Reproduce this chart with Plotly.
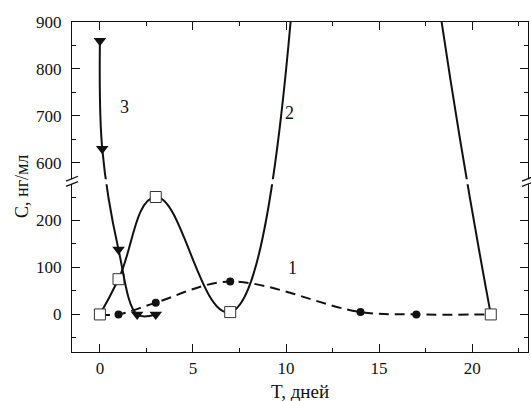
import plotly.graph_objects as go

# ---- data (real values, ng/ml) ----
t1 = [0, 1, 3, 7, 14, 17, 21]
c1 = [0, 0, 25, 70, 5, 0, 0]

t2 = [0, 1, 3, 7, 14, 17, 21]
c2 = [0, 75, 250, 5, 2700, 1300, 0]   # 14 and 17 lie above the plotted range

t3 = [0, 0.125, 1, 2, 3]
c3 = [860, 630, 138, 0, 0]

y_major = [0, 100, 200, 600, 700, 800, 900]
y_minor = [-50, 50, 150, 250, 650, 750, 850]
x_major = [0, 5, 10, 15, 20]

# ---- broken y scale ----
BRK_LO, BRK_HI, GAP = 277.0, 565.0, 10.6


def brk(v):
    if v <= BRK_LO:
        return v
    if v >= BRK_HI:
        return v - (BRK_HI - BRK_LO) + GAP
    return BRK_LO + (v - BRK_LO) * GAP / (BRK_HI - BRK_LO)


def tr(vals):
    return [brk(v) for v in vals]


FONT = "Liberation Serif, Times New Roman, serif"
INK = "#111111"

fig = go.Figure()

fig.add_trace(go.Scatter(
    x=t1, y=tr(c1), mode="lines+markers",
    line=dict(color=INK, width=2, dash="10px,6px", shape="spline"),
    marker=dict(symbol="circle", size=8, color=INK),
))
fig.add_trace(go.Scatter(
    x=t2, y=tr(c2), mode="lines+markers",
    line=dict(color=INK, width=2, shape="spline", smoothing=1.3),
    marker=dict(symbol="square", size=11, color="white",
                line=dict(color="#333333", width=1)),
))
fig.add_trace(go.Scatter(
    x=t3, y=tr(c3), mode="lines+markers",
    line=dict(color=INK, width=2, shape="spline"),
    marker=dict(symbol="triangle-down", size=11, color=INK),
))

ymin, ymax = -80, brk(900)

fig.update_layout(
    width=531, height=401,
    margin=dict(l=72, r=3, t=22, b=49),
    paper_bgcolor="white", plot_bgcolor="white",
    showlegend=False,
    font=dict(family=FONT, size=17, color=INK),
    xaxis=dict(
        range=[-1.5, 23], tickmode="array", tickvals=x_major,
        ticks="inside", ticklen=8, tickwidth=1.2, tickcolor=INK,
        minor=dict(dtick=2.5, tick0=0, ticks="inside", ticklen=4,
                   tickwidth=1, tickcolor=INK),
        showline=True, linecolor=INK, linewidth=1.4, mirror="allticks",
        showgrid=False, zeroline=False,
        tickfont=dict(family=FONT, size=17, color=INK),
    ),
    yaxis=dict(
        range=[ymin, ymax], tickmode="array",
        tickvals=tr(y_major), ticktext=[str(v) for v in y_major],
        ticks="inside", ticklen=8, tickwidth=1.2, tickcolor=INK,
        minor=dict(tickmode="array", tickvals=tr(y_minor), ticks="inside",
                   ticklen=4, tickwidth=1, tickcolor=INK),
        showline=True, linecolor=INK, linewidth=1.4, mirror="allticks",
        showgrid=False, zeroline=False,
        tickfont=dict(family=FONT, size=17, color=INK),
        ticklabelstandoff=6,
    ),
)

# white gap of the axis break
fig.add_shape(type="rect", xref="paper", yref="y", x0=-0.03, x1=1.02,
              y0=BRK_LO, y1=brk(BRK_HI), fillcolor="white",
              line=dict(width=0), layer="above")
mid = (BRK_LO + brk(BRK_HI)) / 2
for xa in (0, 1):
    for (ya, yb) in ((0.8, 5.6), (-4.6, 0.2)):
        fig.add_shape(type="line", xref="paper", yref="y",
                      xsizemode="pixel", ysizemode="pixel",
                      xanchor=xa, yanchor=mid,
                      x0=-6, x1=6, y0=ya, y1=yb,
                      line=dict(color=INK, width=1.3), layer="above")

# curve labels
for txt, xv, yv in (("3", 1.3, 720), ("2", 10.2, 707), ("1", 10.35, 98)):
    fig.add_annotation(x=xv, y=brk(yv), text=txt, showarrow=False,
                       font=dict(family=FONT, size=18, color=INK))

# axis titles
fig.add_annotation(xref="paper", yref="paper", x=-50 / 456, y=0.5,
                   xanchor="center", yanchor="middle",
                   text="C, нг/мл", textangle=-90, showarrow=False,
                   font=dict(family=FONT, size=18, color=INK))
fig.add_annotation(xref="paper", yref="paper", x=0.5, y=-40 / 330,
                   xanchor="center", yanchor="middle",
                   text="T, дней", showarrow=False,
                   font=dict(family=FONT, size=19, color=INK))

fig.write_html("out.html")
